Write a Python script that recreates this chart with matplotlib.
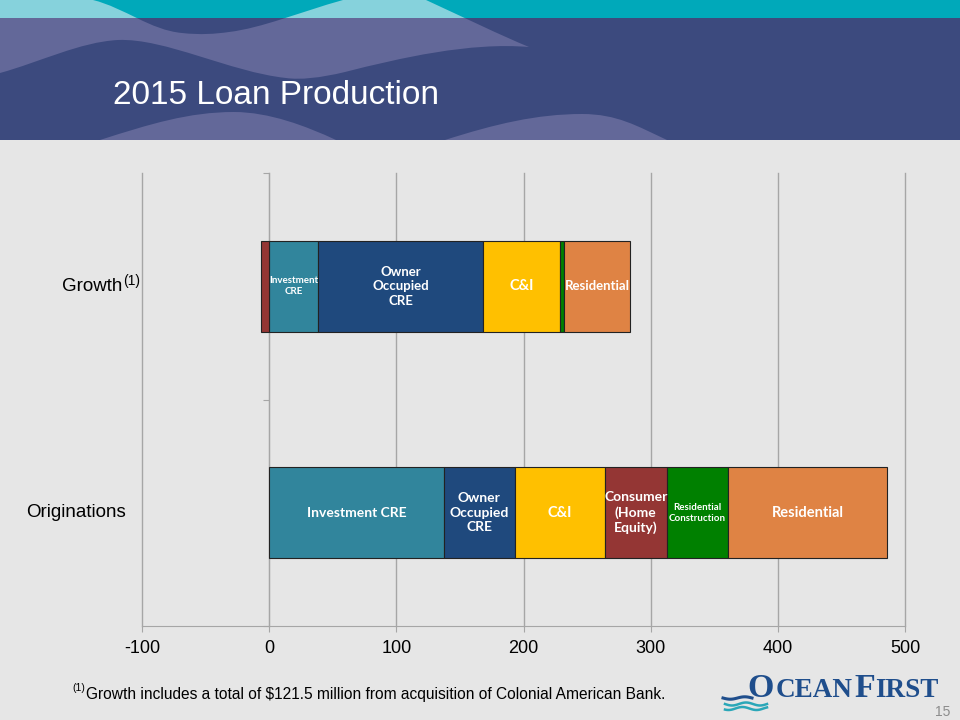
import matplotlib
matplotlib.use("Agg")
import matplotlib.pyplot as plt
import matplotlib.transforms as mtransforms
from matplotlib.path import Path
from matplotlib.patches import PathPatch, Rectangle
import numpy as np

# ---------------- data ----------------
categories = ["Originations", "Growth"]
series_names = ["Investment CRE", "Owner Occupied CRE", "C&I",
                "Consumer (Home Equity)", "Residential Construction", "Residential"]
originations = [137.5, 55.5, 71.0, 48.5, 48.5, 124.5]
growth = [38.5, 129.5, 61.0, -6.5, 3.0, 52.0]
origination_labels = ["Investment CRE", "Owner\nOccupied\nCRE", "C&I",
                      "Consumer\n(Home\nEquity)", "Residential\nConstruction", "Residential"]
growth_labels = ["Investment\nCRE", "Owner\nOccupied\nCRE", "C&I", "", "", "Residential"]
x_ticks = [-100, 0, 100, 200, 300, 400, 500]

# ---------------- style ----------------
series_colors = ["#31859C", "#1F497D", "#FFC000", "#943634", "#008000", "#DF8344"]
orig_label_sizes = [10, 10, 10.5, 10, 7, 10.5]
growth_label_sizes = [7, 9.5, 10.5, 9, 9, 9.5]
SANS = ["Liberation Sans", "DejaVu Sans"]
BARFONT = ["Lato", "DejaVu Sans"]
GRID = "#A6A6A6"

fig = plt.figure(figsize=(9.6, 7.2), dpi=100, facecolor="#E6E6E6")

# ---------------- header ----------------
hax = fig.add_axes([0, 0, 1, 1], zorder=0)
hax.set_xlim(0, 960)
hax.set_ylim(720, 0)
hax.axis("off")
hax.add_patch(Rectangle((0, 0), 960, 140, color="#3C4A7E", lw=0))

M, L, C, Z = Path.MOVETO, Path.LINETO, Path.CURVE4, Path.CLOSEPOLY
wave_v = [(0, 0), (93, 0),
          (125, 8), (150, 30), (182, 33),
          (200, 35), (215, 34), (229, 32),
          (262, 28), (300, 12), (343, 0),
          (426, 0),
          (465, 18), (500, 35), (529, 47),
          (470, 42), (400, 58), (345, 72),
          (320, 78), (300, 80), (286, 78),
          (230, 72), (165, 38), (118, 40),
          (80, 42), (40, 62), (0, 73),
          (0, 73)]
wave_c = [M, L, C, C, C, C, C, C, C, C, C, L, C, C, C, C, C, C, C, C, C, C, C, C, C, C, C, Z]
wave_path = Path(wave_v, wave_c)
hax.add_patch(PathPatch(wave_path, facecolor="#636899", lw=0))
hax.add_patch(Rectangle((0, 0), 960, 18, color="#00A9BA", lw=0))
strip = Rectangle((0, 0), 960, 18, transform=hax.transData)
lt = PathPatch(wave_path, facecolor="#86D2DC", lw=0)
hax.add_patch(lt)
lt.set_clip_path(strip)

for (a, pk, b, py) in [(100, 234, 336, 112), (445, 582, 667, 114)]:
    hv = [(a, 140), (a + 50, 124), (pk - 45, py), (pk, py),
          (pk + 35, py), (b - 30, 126), (b, 140), (b, 140)]
    hc = [M, C, C, C, C, C, C, Z]
    hax.add_patch(PathPatch(Path(hv, hc), facecolor="#636899", lw=0))

hax.text(113, 95, "2015 Loan Production", color="white", fontsize=24,
         family=SANS, va="center", ha="left")

# ---------------- chart ----------------
ax = fig.add_axes([142 / 960, 1 - 626 / 720, 763 / 960, 453 / 720], zorder=2)
ax.patch.set_alpha(0)
ax.set_xlim(-100, 500)
ax.set_ylim(0, 2)
ax.set_xticks(x_ticks)
ax.set_xticklabels([str(t) for t in x_ticks], family=SANS, fontsize=13)
ax.tick_params(axis="x", length=4, color=GRID, pad=6)
ax.grid(axis="x", color=GRID, lw=1)
for gl in ax.get_xgridlines():
    gl.set_clip_on(False)
ax.set_axisbelow(True)
for s in ["top", "right"]:
    ax.spines[s].set_visible(False)
ax.spines["bottom"].set_color(GRID)
ax.spines["left"].set_position(("data", 0))
ax.spines["left"].set_color(GRID)
ax.set_yticks([0, 1, 2])
ax.set_yticklabels([])
ax.tick_params(axis="y", length=4, color=GRID, direction="out")

ypos = [0.5, 1.5]
all_vals = [originations, growth]
all_labels = [origination_labels, growth_labels]
all_sizes = [orig_label_sizes, growth_label_sizes]
for y, vals, labs, sizes in zip(ypos, all_vals, all_labels, all_sizes):
    pos, neg = 0.0, 0.0
    for v, col, lab, fs in zip(vals, series_colors, labs, sizes):
        if v >= 0:
            left = pos
            pos += v
        else:
            left = neg
            neg += v
        ax.barh(y, v, left=left, height=0.4, color=col, edgecolor="#222222", lw=0.8, zorder=3)
        if lab:
            ax.text(left + v / 2, y, lab, ha="center", va="center", color="white",
                    fontsize=fs, fontweight="bold", family=BARFONT, linespacing=1.25, zorder=4)

blend = mtransforms.blended_transform_factory(ax.transAxes, ax.transData)
ax.text(-0.021, 0.5, "Originations", transform=blend, ha="right", va="center",
        fontsize=13.5, family=SANS)
ax.text(-0.0255, 1.5, "Growth", transform=blend, ha="right", va="center",
        fontsize=13.5, family=SANS)
ax.text(-0.0245, 1.5, "(1)", transform=mtransforms.offset_copy(blend, fig=fig, x=0, y=5, units="dots"),
        ha="left", va="center", fontsize=10, family=SANS)

# ---------------- footer ----------------
fig.text(72 / 960, 1 - 688 / 720, "(1)", fontsize=7.5, family=SANS, va="center")
fig.text(86 / 960, 1 - 694 / 720,
         "Growth includes a total of $121.5 million from acquisition of Colonial American Bank.",
         fontsize=11.2, family=SANS, va="center")
fig.text(943 / 960, 1 - 712 / 720, "15", fontsize=10, color="#8C8C8C", family=SANS,
         ha="center", va="center")

# logo
LOGO = "#1F4E8C"
renderer = fig.canvas.get_renderer()
xpix = 747
base = 1 - 697 / 720
for piece, fs, gap in [("O", 24.5, 2), ("CEAN", 19.5, 2), ("F", 24.5, 0), ("IRST", 19.5, 0)]:
    t = fig.text(xpix / 960, base, piece, fontsize=fs, family=["Liberation Serif", "DejaVu Serif"],
                 color=LOGO, va="baseline", ha="left", fontweight="bold")
    ext = t.get_window_extent(renderer)
    xpix += ext.width + gap
xs = np.linspace(723, 752, 40)
hax.plot(xs, 698 + 1.2 * np.sin((xs - 723) / 29 * 2 * np.pi), color=LOGO, lw=2.2)
xs2 = np.linspace(725, 767, 60)
hax.plot(xs2, 704 + 1.5 * np.sin((xs2 - 725) / 42 * 2 * np.pi * 1.5), color="#2AA7B8", lw=1.8)
hax.plot(xs2, 708.5 + 1.5 * np.sin((xs2 - 725) / 42 * 2 * np.pi * 1.5 + 0.8), color="#2AA7B8", lw=1.8)

fig.savefig("out.png", dpi=100, facecolor=fig.get_facecolor())
